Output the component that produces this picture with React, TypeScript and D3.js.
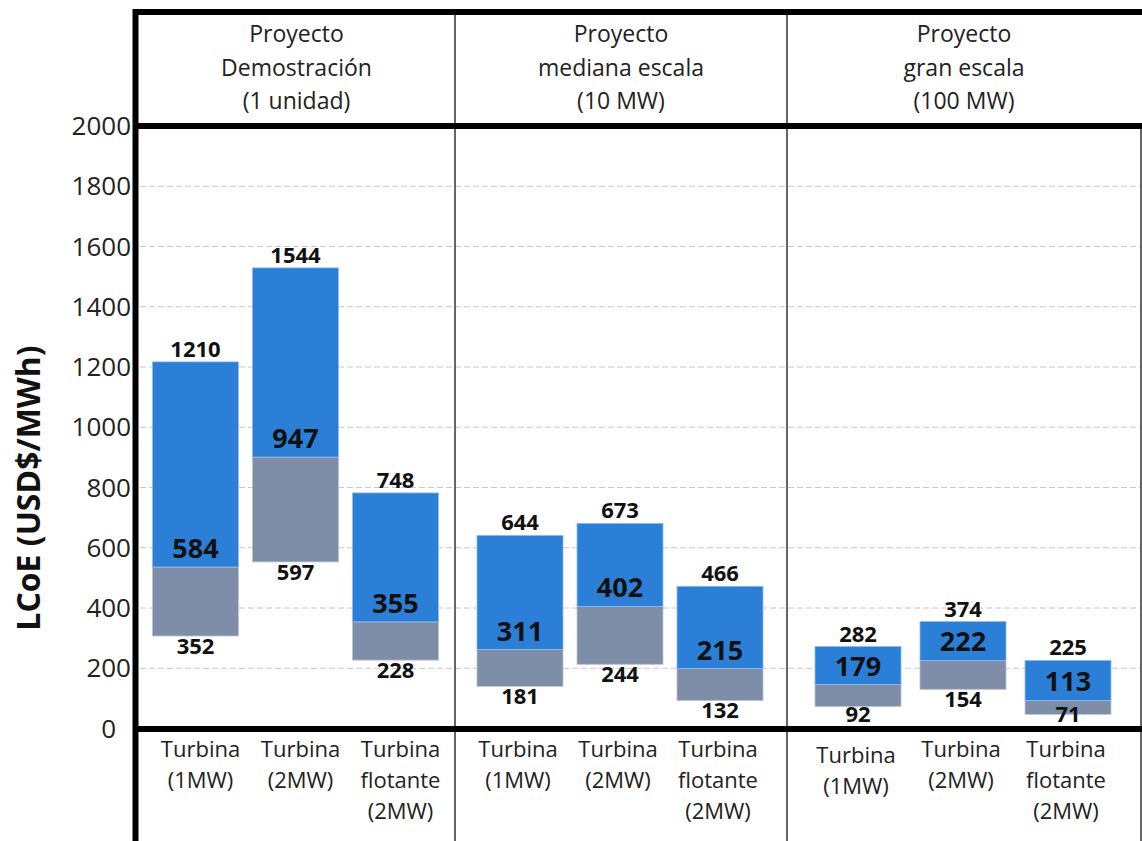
import React from "react";
import * as d3 from "d3";

// ---- data ----
const panels = ["Proyecto|Demostración|(1 unidad)", "Proyecto|mediana escala|(10 MW)", "Proyecto|gran escala|(100 MW)"];
const categories = [
  ["Turbina|(1MW)", "Turbina|(2MW)", "Turbina|flotante|(2MW)"],
  ["Turbina|(1MW)", "Turbina|(2MW)", "Turbina|flotante|(2MW)"],
  ["Turbina|(1MW)", "Turbina|(2MW)", "Turbina|flotante|(2MW)"],
];
// bar extents
const lowValues = [[307, 553, 227], [140, 213, 93], [73, 130, 47]];
const midValues = [[536, 901, 354], [262, 405, 199], [146, 226, 93]];
const highValues = [[1217, 1529, 782], [641, 681, 472], [272, 355, 226]];
// printed labels
const highLabels = [[1210, 1544, 748], [644, 673, 466], [282, 374, 225]];
const midLabels = [[584, 947, 355], [311, 402, 215], [179, 222, 113]];
const lowLabels = [[352, 597, 228], [181, 244, 132], [92, 154, 71]];
const yTicks = [0, 200, 400, 600, 800, 1000, 1200, 1400, 1600, 1800, 2000];
const yTitle = "LCoE (USD$/MWh)";

// ---- layout ----
const W = 1142, H = 841;
const panelEdges = [138, 455, 787, 1141];
const panelSteps = [100, 100, 105];
const yTop = 126, yZero = 728.5;
const FONT = "'Open Sans', 'DejaVu Sans', sans-serif";
const BLUE = "#2b7fd6";
const GRAY = "#7f8ea8";

export default function App() {
  const y = d3.scaleLinear().domain([0, 2000]).range([yZero, yTop]);

  const bars: JSX.Element[] = [];
  const labels: JSX.Element[] = [];
  const cats: JSX.Element[] = [];

  panels.forEach((_, p) => {
    const c = (panelEdges[p] + panelEdges[p + 1]) / 2 - 1;
    const step = panelSteps[p];
    const pad = 1 - 86 / step;
    const x = d3
      .scaleBand<number>()
      .domain([0, 1, 2])
      .range([c - 1.5 * step, c + 1.5 * step])
      .paddingInner(pad)
      .paddingOuter(pad / 2);
    [0, 1, 2].forEach((i) => {
      const x0 = x(i)!;
      const bw = x.bandwidth();
      const cx = x0 + bw / 2;
      const lo = y(lowValues[p][i]);
      const mi = y(midValues[p][i]);
      const hi = y(highValues[p][i]);
      bars.push(
        <g key={`b${p}${i}`}>
          <rect x={x0} y={mi} width={bw} height={lo - mi} fill={GRAY} stroke="#b9c2d2" strokeWidth={0.8} />
          <rect x={x0} y={hi} width={bw} height={mi - hi} fill={BLUE} stroke="#8fbcec" strokeWidth={0.8} />
        </g>
      );
      labels.push(
        <text key={`h${p}${i}`} x={cx} y={hi - 5} textAnchor="middle" fontFamily={FONT} fontWeight={700} fontSize={22} fill="#111">
          {highLabels[p][i]}
        </text>,
        <text key={`m${p}${i}`} x={cx} y={mi - 9} textAnchor="middle" fontFamily={FONT} fontWeight={700} fontSize={27} fill="#111">
          {midLabels[p][i]}
        </text>,
        <text key={`l${p}${i}`} x={cx} y={Math.min(lo + 18, 722)} textAnchor="middle" fontFamily={FONT} fontWeight={700} fontSize={22} fill="#111">
          {lowLabels[p][i]}
        </text>
      );
      const lines = categories[p][i].split("|");
      cats.push(
        <text key={`c${p}${i}`} textAnchor="middle" fontFamily={FONT} fontSize={22} fill="#222">
          {lines.map((t, k) => (
            <tspan key={k} x={cx + (p === 0 ? 5 : -2)} y={757 + k * 31 + (p === 2 && i === 0 ? 6 : 0)}>
              {t}
            </tspan>
          ))}
        </text>
      );
    });
  });

  return (
    <svg width={W} height={H} style={{ position: "absolute", left: 0, top: 0, background: "#fff" }}>
      <rect x={0} y={0} width={W} height={H} fill="#fff" />
      {/* grid */}
      {yTicks
        .filter((t) => t > 0 && t < 2000)
        .map((t) => (
          <line key={`g${t}`} x1={140} x2={1140} y1={y(t)} y2={y(t)} stroke="#c8c8c8" strokeWidth={1} strokeDasharray="6 3" />
        ))}
      {/* y tick labels */}
      {yTicks.map((t) => (
        <text
          key={`t${t}`}
          x={t === 0 ? 116 : 131}
          y={y(t)}
          dy="0.35em"
          textAnchor="end"
          fontFamily={FONT}
          fontSize={26}
          fill="#222"
        >
          {t}
        </text>
      ))}
      {/* y title */}
      <text
        transform={`translate(40,488) rotate(-90)`}
        textAnchor="middle"
        fontFamily={FONT}
        fontWeight={700}
        fontSize={32}
        fill="#111"
      >
        {yTitle}
      </text>
      {bars}
      {labels}
      {/* panel dividers */}
      {panelEdges.slice(1, 3).map((xx) => (
        <line key={`d${xx}`} x1={xx} x2={xx} y1={12} y2={H} stroke="#333" strokeWidth={1.5} />
      ))}
      <line x1={1141} x2={1141} y1={yTop} y2={H} stroke="#333" strokeWidth={1.5} />
      {/* thick frame lines */}
      <line x1={133} x2={W} y1={12} y2={12} stroke="#000" strokeWidth={6} />
      <line x1={133} x2={W} y1={126} y2={126} stroke="#000" strokeWidth={6} />
      <line x1={133} x2={W} y1={729} y2={729} stroke="#000" strokeWidth={6} />
      <line x1={135.5} x2={135.5} y1={9} y2={H} stroke="#000" strokeWidth={6} />
      {/* headers */}
      {panels.map((h, p) => {
        const c = (panelEdges[p] + panelEdges[p + 1]) / 2;
        return (
          <text key={`p${p}`} textAnchor="middle" fontFamily={FONT} fontSize={23} fill="#222">
            {h.split("|").map((t, k) => (
              <tspan key={k} x={c} y={42 + k * 33.5}>
                {t}
              </tspan>
            ))}
          </text>
        );
      })}
      {cats}
    </svg>
  );
}
